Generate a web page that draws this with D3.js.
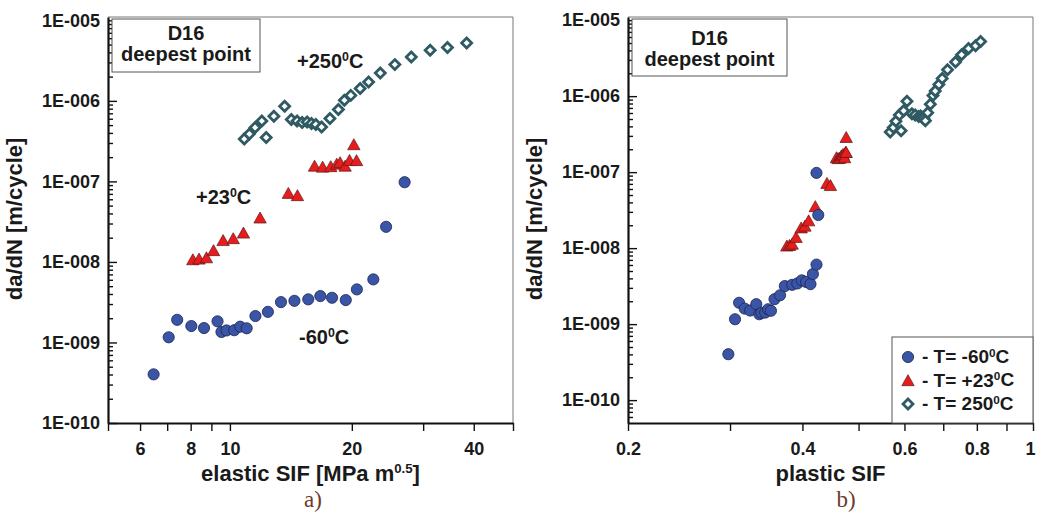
<!DOCTYPE html>
<html>
<head>
  <meta charset="utf-8">
  <title>da/dN vs SIF</title>
  <script src="https://d3js.org/d3.v7.min.js"></script>
  <style>
    body { margin: 0; background: #fff; }
    svg text { font-family: "Liberation Sans", Arial, sans-serif; font-weight: bold; fill: #1a1a1a; }
    .axis path { stroke: #111; stroke-width: 2.2px; }
    .axis line { stroke: #111; stroke-width: 1.4px; }
    .axis text { font-size: 18px; }
    .caption { font-family: "Liberation Serif", serif !important; font-weight: normal !important; fill: #6b3a2e !important; font-size: 23px; }
  </style>
</head>
<body>
<div id="chart"></div>
<script>
"use strict"
// da/dN [m/cycle] per point, shared by both panels
var dadnM60 = [4.02e-10, 1.16e-9, 1.91e-9, 1.60e-9, 1.51e-9, 1.83e-9, 1.35e-9, 1.41e-9, 1.42e-9, 1.57e-9, 1.50e-9, 2.13e-9,
               2.40e-9, 3.17e-9, 3.29e-9, 3.43e-9, 3.77e-9, 3.59e-9, 3.36e-9, 4.56e-9, 6.07e-9, 2.73e-8, 9.77e-8];
var kM60 = [6.48, 7.06, 7.41, 8.03, 8.63, 9.32, 9.53, 9.81, 10.25, 10.6, 11.0, 11.56,
            12.41, 13.37, 14.43, 15.61, 16.72, 17.87, 19.32, 20.58, 22.6, 24.3, 27.0];
var jM60 = [0.298, 0.306, 0.311, 0.318, 0.325, 0.333, 0.337, 0.340, 0.345, 0.349, 0.353, 0.358,
            0.366, 0.373, 0.384, 0.392, 0.399, 0.406, 0.413, 0.417, 0.423, 0.426, 0.423];

var dadnP23 = [1.04e-8, 1.06e-8, 1.10e-8, 1.35e-8, 1.80e-8, 1.90e-8, 2.23e-8, 3.43e-8, 6.94e-8, 6.50e-8,
               1.51e-7, 1.47e-7, 1.49e-7, 1.60e-7, 1.67e-7, 1.51e-7, 1.78e-7, 1.77e-7, 2.79e-7];
var kP23 = [8.10, 8.39, 8.75, 9.11, 9.62, 10.19, 10.8, 11.87, 13.94, 14.68,
            16.18, 16.94, 17.74, 18.35, 18.71, 19.25, 19.74, 20.54, 20.23];
var jP23 = [0.376, 0.380, 0.384, 0.390, 0.398, 0.404, 0.410, 0.421, 0.441, 0.447,
            0.458, 0.461, 0.464, 0.467, 0.470, 0.473, 0.475, 0.476, 0.476];

var dadn250 = [3.37e-7, 3.88e-7, 4.67e-7, 5.63e-7, 3.51e-7, 6.44e-7, 8.57e-7, 5.86e-7, 5.63e-7, 5.38e-7, 5.47e-7, 5.23e-7, 5.08e-7,
               4.75e-7, 6.03e-7, 7.80e-7, 1.02e-6, 1.17e-6, 1.42e-6, 1.71e-6, 2.22e-6, 2.82e-6, 3.50e-6, 4.24e-6, 4.59e-6, 5.23e-6];
var k250 = [10.85, 11.17, 11.54, 11.99, 12.29, 12.84, 13.65, 14.18, 14.65, 15.08, 15.51, 15.9, 16.3,
            16.84, 17.66, 18.53, 19.17, 19.88, 20.97, 22.0, 23.51, 25.54, 28.04, 31.22, 34.45, 38.42];
var j250 = [0.567, 0.574, 0.580, 0.588, 0.592, 0.598, 0.606, 0.618, 0.626, 0.635, 0.640, 0.644, 0.648,
            0.652, 0.658, 0.665, 0.672, 0.678, 0.688, 0.697, 0.712, 0.735, 0.753, 0.774, 0.796, 0.812];

var yTicks = [1e-10, 1e-9, 1e-8, 1e-7, 1e-6, 1e-5];
var yTickLabels = ["1E-010", "1E-009", "1E-008", "1E-007", "1E-006", "1E-005"];
var xTicksA = [5, 6, 7, 8, 9, 10, 20, 30, 40, 50];
var xLabelsA = [6, 8, 10, 20, 40];
var xTicksB = [0.2, 0.3, 0.4, 0.5, 0.6, 0.7, 0.8, 0.9, 1];
var xLabelsB = [0.2, 0.4, 0.6, 0.8, 1];

var svg = d3.select('#chart').append('svg').attr('width', 1037).attr('height', 512);

// marker shapes
var triPath = 'M0,-6.8L6.2,4.2L-6.2,4.2Z';
var diaPath = 'M0,-5L5,0L0,5L-5,0Z';

function sup(t, base, s) { // text like "+23" + superscript 0 + "C"
  t.append('tspan').text(base);
  t.append('tspan').attr('font-size', '0.62em').attr('dy', '-0.55em').text('0');
  t.append('tspan').attr('dy', '0.34em').text(s);
}

function panel(opt) {
  var x = d3.scaleLog().domain(opt.xdom).range([opt.left, opt.right]);
  var y = d3.scaleLog().domain(opt.ydom).range([423, 17]);
  var g = svg.append('g');

  // thin frame top/right
  g.append('path')
    .attr('d', 'M' + opt.left + ',17H' + opt.right + 'V423')
    .attr('fill', 'none').attr('stroke', '#777').attr('stroke-width', 1);

  // minor y ticks
  var minor = [];
  var lo = Math.floor(Math.log10(opt.ydom[0])), hi = Math.ceil(Math.log10(opt.ydom[1]));
  for (var e = lo; e < hi; e++) for (var m = 2; m <= 9; m++) {
    var v = m * Math.pow(10, e);
    if (v >= opt.ydom[0] && v <= opt.ydom[1]) minor.push(v);
  }
  g.append('g').attr('class', 'axis').attr('transform', 'translate(' + opt.left + ',0)')
    .call(d3.axisLeft(y).tickValues(minor).tickSize(-5).tickFormat(''))
    .select('.domain').remove();
  g.append('g').attr('class', 'axis').attr('transform', 'translate(' + opt.left + ',0)')
    .call(d3.axisLeft(y).tickValues(yTicks).tickSizeInner(-9).tickSizeOuter(0).tickPadding(8)
      .tickFormat(function(d, i) { return yTickLabels[i]; }));

  var xa = g.append('g').attr('class', 'axis').attr('transform', 'translate(0,423)')
    .call(d3.axisBottom(x).tickValues(opt.xticks).tickSizeInner(8).tickSizeOuter(0).tickPadding(11)
      .tickFormat(function(d) { return opt.xlabels.indexOf(d) >= 0 ? String(d) : ''; }));
  // keep the label at the right edge inside the page
  xa.selectAll('.tick text').filter(function(d) { return x(d) > 1025; }).attr('dx', -3);

  // marks
  function pts(xs, ys) { return xs.map(function(v, i) { return [v, ys[i]]; }); }
  g.selectAll('.tri').data(pts(opt.xP23, dadnP23)).enter().append('path')
    .attr('d', triPath).attr('transform', function(d) { return 'translate(' + x(d[0]) + ',' + y(d[1]) + ')'; })
    .attr('fill', '#e81c1c').attr('stroke', '#5a1a1a').attr('stroke-width', 0.7);
  g.selectAll('.cir').data(pts(opt.xM60, dadnM60)).enter().append('circle')
    .attr('cx', function(d) { return x(d[0]); }).attr('cy', function(d) { return y(d[1]); }).attr('r', 5.6)
    .attr('fill', '#3a54a6').attr('stroke', '#1c2550').attr('stroke-width', 0.8);
  g.selectAll('.dia').data(pts(opt.x250, dadn250)).enter().append('path')
    .attr('d', diaPath).attr('transform', function(d) { return 'translate(' + x(d[0]) + ',' + y(d[1]) + ')'; })
    .attr('fill', '#fff').attr('stroke', '#2f5a63').attr('stroke-width', 2.8);

  // titles
  g.append('text').attr('transform', 'translate(' + (opt.left - 86) + ',219) rotate(-90)')
    .attr('text-anchor', 'middle').attr('font-size', 22).text('da/dN [m/cycle]');
  var xt = g.append('text').attr('x', (opt.left + opt.right) / 2).attr('y', 481)
    .attr('text-anchor', 'middle').attr('font-size', 22);
  xt.append('tspan').text(opt.xtitle);
  if (opt.xsup) {
    xt.append('tspan').attr('font-size', '0.6em').attr('dy', '-0.6em').text(opt.xsup);
    xt.append('tspan').attr('dy', '0.36em').text(']');
  }
  g.append('text').attr('class', 'caption').attr('x', opt.capx).attr('y', 507)
    .attr('text-anchor', 'middle').text(opt.cap);

  // D16 box
  g.append('rect').attr('x', opt.left + 4).attr('y', 19).attr('width', opt.boxw).attr('height', opt.boxh)
    .attr('fill', '#fff').attr('stroke', '#555').attr('stroke-width', 1);
  var cx = opt.left + 4 + opt.boxw / 2;
  g.append('text').attr('x', cx).attr('y', opt.boxy1).attr('text-anchor', 'middle').attr('font-size', 20).text('D16');
  g.append('text').attr('x', cx).attr('y', opt.boxy2).attr('text-anchor', 'middle').attr('font-size', 20).text('deepest point');
  return g;
}

var ga = panel({
  left: 108, right: 513, xdom: [5, 50], ydom: [1e-10, 1.1e-5],
  xticks: xTicksA, xlabels: xLabelsA, xM60: kM60, xP23: kP23, x250: k250,
  xtitle: 'elastic SIF [MPa m', xsup: '0.5', cap: 'a)', capx: 313,
  boxw: 148, boxh: 53, boxy1: 40, boxy2: 61
});
var gb = panel({
  left: 628, right: 1033, xdom: [0.2, 1], ydom: [5e-11, 1.1e-5],
  xticks: xTicksB, xlabels: xLabelsB, xM60: jM60, xP23: jP23, x250: j250,
  xtitle: 'plastic SIF', xsup: null, cap: 'b)', capx: 846,
  boxw: 155, boxh: 57, boxy1: 45, boxy2: 66
});

// series annotations in panel a
[[297, 68, '+250', 'C'], [196, 204, '+23', 'C'], [299, 344, '-60', 'C']].forEach(function(a) {
  var t = ga.append('text').attr('x', a[0]).attr('y', a[1]).attr('font-size', 20);
  sup(t, a[2], a[3]);
});

// legend in panel b
var leg = gb.append('g');
leg.append('rect').attr('x', 892).attr('y', 337).attr('width', 141).attr('height', 86)
  .attr('fill', '#fff').attr('stroke', '#555').attr('stroke-width', 1);
var legItems = ['- T= -60', '- T= +23', '- T= 250'];
legItems.forEach(function(s, i) {
  var yy = 357 + i * 23.5;
  if (i === 0) leg.append('circle').attr('cx', 908).attr('cy', yy).attr('r', 5.6)
    .attr('fill', '#3a54a6').attr('stroke', '#1c2550').attr('stroke-width', 0.8);
  if (i === 1) leg.append('path').attr('d', triPath).attr('transform', 'translate(908,' + (yy + 1) + ')')
    .attr('fill', '#e81c1c').attr('stroke', '#5a1a1a').attr('stroke-width', 0.7);
  if (i === 2) leg.append('path').attr('d', diaPath).attr('transform', 'translate(908,' + yy + ')')
    .attr('fill', '#fff').attr('stroke', '#2f5a63').attr('stroke-width', 2.8);
  var t = leg.append('text').attr('x', 922).attr('y', yy + 6).attr('font-size', 19);
  sup(t, s, 'C');
});
</script>
</body>
</html>
